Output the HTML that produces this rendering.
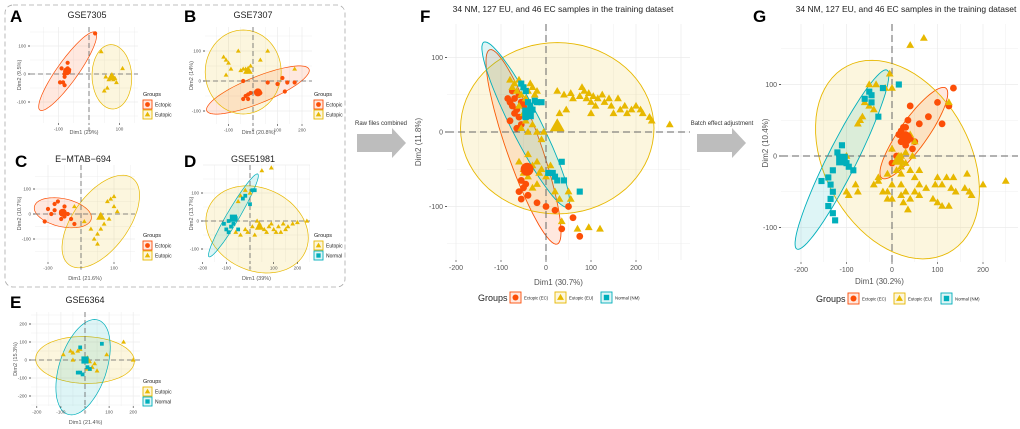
<!DOCTYPE html>
<html><head><meta charset="utf-8"><style>
body{margin:0;background:#fff;width:1020px;height:429px;overflow:hidden;font-family:"Liberation Sans",sans-serif}
svg{display:block}
</style></head><body>
<svg id="fig" width="1020" height="429" viewBox="0 0 1020 429" xmlns="http://www.w3.org/2000/svg" font-family="Liberation Sans, sans-serif">
<rect x="5" y="5" width="340" height="282" rx="8" fill="none" stroke="#aaa" stroke-dasharray="5,3" stroke-width="0.8"/>
<g>
<text x="381" y="125" font-size="6" text-anchor="middle" fill="#333">Raw files combined</text>
<polygon points="357,134 392,134 392,128 406,143 392,158 392,152 357,152" fill="#bdbdbd"/>
</g>
<g>
<text x="722" y="125" font-size="6" text-anchor="middle" fill="#333">Batch effect adjustment</text>
<polygon points="697,134 732,134 732,128 746,143 732,158 732,152 697,152" fill="#bdbdbd"/>
</g>
</svg>
<script>
// ---- Data (PCA coordinates, data units) ----
const aEctopic=[[-90,20],[-80,0],[-70,40],[-75,5],[-85,-30],[-80,-40],[-95,-30],[-70,20],[-65,15],[-80,-10],[20,145]];
const aEutopic=[[40,80],[70,-10],[80,-20],[60,-50],[50,-60],[110,20],[75,-5],[85,-15],[65,-20],[90,-30],[55,-10]];
const aCentroids=[[-72,10],[75,-10]];
const aEllipses=[[-70,10,166,35,57],[75,-10,115,65,92]];

const bEutopic=[[-120,80],[-110,70],[-100,60],[-60,100],[-30,40],[-20,30],[-40,40],[-10,50],[30,70],[60,100],[-90,40],[-30,30],[-20,35],[-110,20],[170,40],[-50,35]];
const bEctopic=[[-40,0],[-30,-50],[-20,-60],[-40,-60],[-10,-40],[60,-5],[100,-10],[120,10],[140,-5],[170,-5],[130,-35],[30,-40],[-20,-45]];
const bCentroids=[[20,-38],[-20,35]];
const bEllipses=[[20,-30,220,45,18],[-40,30,155,140,0]];

const cEctopic=[[-100,20],[-110,-30],[-90,0],[-80,40],[-70,50],[-60,10],[-50,30],[-40,0],[-30,-20],[-20,-40],[-60,-20],[-80,15],[-50,-10]];
const cEutopic=[[-20,30],[10,-30],[30,-60],[40,-100],[50,-80],[60,-60],[70,-40],[80,50],[90,60],[100,70],[100,30],[110,10],[50,-120],[85,-20]];
const cCentroids=[[-55,5],[60,-10]];
const cEllipses=[[-55,5,90,55,-20],[60,-30,200,90,65]];

const dEutopic=[[50,180],[90,190],[-20,110],[0,100],[-40,90],[-50,70],[30,0],[40,-10],[60,-30],[70,-40],[100,-30],[120,-20],[140,-10],[160,-20],[180,-10],[200,-5],[240,0],[-20,-30],[-40,-50],[-10,-40],[20,-50],[80,-20],[110,-40],[-60,-40],[90,-10],[130,-40],[150,-30],[10,-20]];
const dNormal=[[-90,0],[-80,-20],[-100,-30],[-90,-40],[-70,-10],[-60,10],[-110,-10],[-30,80],[-20,90],[10,110],[20,110],[0,60],[-50,-30]];
const dCentroids=[[40,-20],[-70,10]];
const dEllipses=[[30,-30,220,150,-15],[-70,20,180,25,55]];

const eEutopic=[[-90,30],[-60,50],[-50,40],[-30,50],[-20,60],[0,10],[20,-50],[30,-40],[40,-20],[50,-60],[90,30],[160,100],[200,0],[-50,0],[10,-50]];
const eNormal=[[-20,-70],[-30,-70],[-10,-80],[10,-40],[20,-50],[70,90],[-20,70]];
const eCentroids=[[10,0],[0,0]];
const eEllipses=[[0,0,205,130,-3],[-8,-40,270,100,78]];

const fEctopic=[[-80,40],[-75,35],[-70,45],[-65,30],[-60,50],[-55,40],[-70,25],[-60,20],[-75,55],[-85,45],[-50,35],[-65,5],[-55,10],[-80,15],[-55,-65],[-45,-70],[-60,-80],[-50,-75],[-55,-90],[-40,-85],[-20,-95],[0,-100],[20,-105],[50,-100],[35,-130],[60,-115],[75,-140]];
const fEutopic=[[-80,70],[-75,60],[-70,65],[-65,55],[-60,70],[-55,50],[-50,60],[-45,45],[-40,55],[-35,65],[-30,60],[-25,50],[-20,55],[-60,35],[-50,25],[-45,15],[-55,5],[-40,0],[-30,10],[-20,0],[-10,-10],[-5,0],[25,55],[40,50],[55,52],[60,45],[75,48],[80,60],[85,55],[90,45],[95,52],[100,40],[105,48],[110,35],[115,45],[125,50],[130,40],[140,45],[145,35],[150,25],[160,45],[165,30],[175,35],[180,25],[190,30],[200,35],[210,30],[215,25],[230,20],[235,15],[275,10],[45,30],[100,25],[30,25],[-60,-40],[-50,-50],[-40,-60],[-30,-45],[-20,-40],[-10,-50],[0,-60],[10,-45],[-20,-70],[-30,-75],[-50,-55],[20,-80],[30,-90],[50,-80],[55,-90],[-40,-30],[-15,-55],[35,-120],[70,-130],[95,-128],[120,-130]];
const fNormal=[[-55,65],[-50,60],[-45,55],[-40,40],[-35,35],[-30,30],[-25,42],[-20,40],[-10,40],[-45,20],[5,-55],[15,-55],[20,-60],[25,-65],[35,-40],[40,-65],[75,-80]];
const fCentroids=[[-42,-50],[25,8],[-40,25]];
const fEllipses=[[-50,-20,151,35,-59],[25,5,215,115,0],[-45,10,145,28,-49]];

const gEctopic=[[40,70],[60,45],[30,40],[20,35],[30,30],[40,25],[20,20],[30,15],[50,20],[45,10],[10,0],[0,-10],[25,40],[80,55],[100,75],[125,70],[110,45],[135,95],[35,50],[15,30]];
const gEutopic=[[-50,100],[-35,100],[-15,95],[-5,115],[0,95],[40,155],[70,165],[-60,75],[-50,70],[-40,65],[-70,50],[-75,45],[-65,55],[-100,0],[-80,-40],[-100,-50],[-75,-50],[-95,-55],[20,-15],[0,10],[10,-5],[20,0],[30,5],[10,-20],[20,-25],[30,-10],[40,-20],[50,-30],[60,-20],[60,-40],[-10,-50],[0,-40],[-30,-35],[-40,-40],[-20,-50],[30,-50],[40,-60],[20,-55],[50,-50],[0,-60],[25,-65],[35,-75],[60,-55],[-10,-60],[100,-30],[110,-40],[120,-30],[135,-30],[165,-25],[130,-45],[140,-50],[160,-45],[170,-50],[175,-55],[200,-40],[250,-35],[90,-60],[100,-65],[110,-70],[125,-70],[-10,-25],[-30,-30],[20,-40],[75,-45],[95,-40],[125,75],[40,30],[50,20],[45,0]];
const gNormal=[[-50,90],[-45,85],[-60,80],[-45,75],[-20,95],[15,100],[-30,55],[-110,15],[-120,5],[-100,-10],[-95,-15],[-85,-20],[-130,-20],[-140,-30],[-135,-40],[-130,-50],[-135,-60],[-140,-70],[-130,-80],[-125,-90],[-155,-35]];
const gCentroids=[[30,25],[15,-5],[-110,-5]];
const gEllipses=[[48,32,95,25,40],[12,-5,190,125,-25],[-110,-5,160,28,51]];

const COL={ec:"#FC4E07",eu:"#E7B800",nm:"#00AFBB"};
const NS="http://www.w3.org/2000/svg";
const svg=document.getElementById('fig');
function el(tag,attrs,parent){const e=document.createElementNS(NS,tag);for(const k in attrs)e.setAttribute(k,attrs[k]);(parent||svg).appendChild(e);return e;}

function marker(g,type,px,py,r){
  let m;
  if(type==='ec') m=el('circle',{cx:px,cy:py,r:r,fill:COL.ec},g);
  else if(type==='eu') m=el('polygon',{points:`${px},${py-r*1.2} ${px-r*1.15},${py+r*0.8} ${px+r*1.15},${py+r*0.8}`,fill:COL.eu},g);
  else m=el('rect',{x:px-r*0.9,y:py-r*0.9,width:r*1.8,height:r*1.8,fill:COL.nm},g);
  return m;
}

function panel(cfg){
  const g=el('g',{});
  
  
  const sx=v=>cfg.ox+v*cfg.kx, sy=v=>cfg.oy-v*cfg.ky;
  const [x0,y0,x1,y1]=cfg.area;
  const step=cfg.xstep, ystep=cfg.ystep;
  for(let v=-400;v<=400;v+=step/2){const p=sx(v);if(p>=x0&&p<=x1){const l=el('line',{x1:p,x2:p,y1:y0,y2:y1,stroke:"#ebebeb","stroke-width":v%step===0?0.7:0.4},g);}}
  for(let v=-400;v<=400;v+=ystep/2){const p=sy(v);if(p>=y0&&p<=y1){const l=el('line',{y1:p,y2:p,x1:x0,x2:x1,stroke:"#ebebeb","stroke-width":v%ystep===0?0.7:0.4},g);}}
  cfg.ellipses.forEach((e,i)=>{
    const [cx,cy,a,b,ang]=e;const t=ang*Math.PI/180;let d='';
    for(let k=0;k<=72;k++){const u=k/72*2*Math.PI;const x=cx+a*Math.cos(u)*Math.cos(t)-b*Math.sin(u)*Math.sin(t);const y=cy+a*Math.cos(u)*Math.sin(t)+b*Math.sin(u)*Math.cos(t);d+=(k?'L':'M')+sx(x).toFixed(1)+','+sy(y).toFixed(1);}
    const p=el('path',{d:d+'Z',fill:COL[cfg.groups[i]],"fill-opacity":0.13,stroke:COL[cfg.groups[i]],"stroke-width":cfg.big?0.9:0.7},g);
    
    
  });
  const zx=el('line',{x1:sx(0),x2:sx(0),y1:y0,y2:y1,stroke:"#666","stroke-width":cfg.big?1:0.8,"stroke-dasharray":cfg.big?"7,4":"5,3"},g);
  
  const zy=el('line',{y1:sy(0),y2:sy(0),x1:x0,x2:x1,stroke:"#666","stroke-width":cfg.big?1:0.8,"stroke-dasharray":cfg.big?"7,4":"5,3"},g);
  
  const r=cfg.big?3.4:2.1;
  cfg.series.forEach((s,i)=>{
    s.forEach(pt=>{const m=marker(g,cfg.groups[i],sx(pt[0]),sy(pt[1]),r);
      
      });
  });
  cfg.centroids.forEach((c,i)=>{const m=marker(g,cfg.groups[i],sx(c[0]),sy(c[1]),r*1.9);
    
    });
  const fs=cfg.big?7:4.6;
  cfg.xticks.forEach(v=>{const p=sx(v);const t=el('text',{x:p,y:y1+fs+3,"font-size":fs,"text-anchor":"middle",fill:"#555"},g);t.textContent=v;
    
    el('line',{x1:p,x2:p,y1:y1,y2:y1+2,stroke:"#333","stroke-width":0.6},g);});
  cfg.yticks.forEach(v=>{const p=sy(v);const t=el('text',{x:x0-4,y:p+fs*0.35,"font-size":fs,"text-anchor":"end",fill:"#555"},g);t.textContent=v;
    
    el('line',{x1:x0-2,x2:x0,y1:p,y2:p,stroke:"#333","stroke-width":0.8},g);});
  const afs=cfg.big?8:5.5;
  const xt=el('text',{x:(x0+x1)/2+(cfg.xlabdx||0),y:cfg.xlaby,"font-size":afs,"text-anchor":"middle",fill:"#555"},g);xt.textContent=cfg.xlab;
  
  const yt=el('text',{x:0,y:0,"font-size":afs,"text-anchor":"middle",fill:"#555",transform:`translate(${cfg.ylabx},${(y0+y1)/2}) rotate(-90)`},g);yt.textContent=cfg.ylab;
  
  const ti=el('text',{x:cfg.titlex,y:cfg.titley,"font-size":cfg.big?8.5:9,"text-anchor":"middle",fill:"#222"},g);ti.textContent=cfg.title;
  
  const lt=el('text',{x:cfg.letter[0],y:cfg.letter[1],"font-size":17,"font-weight":"bold",fill:"#000"},g);lt.textContent=cfg.letter[2];
  
  const names={ec:cfg.big?'Ectopic (EC)':'Ectopic',eu:cfg.big?'Eutopic (EU)':'Eutopic',nm:cfg.big?'Normal (NM)':'Normal'};
  const lg=el('g',{},g);
  if(!cfg.big){
    const [lx,ly]=cfg.legend;
    const gt=el('text',{x:lx,y:ly,"font-size":5.5,fill:"#222"},lg);gt.textContent='Groups';
    cfg.legendGroups.forEach((k,i)=>{const yy=ly+4+i*10;
      const e=el('g',{},lg);
      el('rect',{x:lx,y:yy,width:9,height:9,fill:COL[k],"fill-opacity":0.13,stroke:COL[k],"stroke-width":0.9},e);
      marker(e,k,lx+4.5,yy+4.5,2.4);
      const t=el('text',{x:lx+12,y:yy+6.5,"font-size":5,fill:"#222"},e);t.textContent=names[k];});
  } else {
    const [lx,ly,offs]=cfg.legend;
    const gt=el('text',{x:lx,y:ly+3,"font-size":9,fill:"#222"},lg);gt.textContent='Groups';
    cfg.legendGroups.forEach((k,i)=>{const xx=offs[i];
      const e=el('g',{},lg);
      el('rect',{x:xx,y:ly-6,width:11,height:11,fill:COL[k],"fill-opacity":0.13,stroke:COL[k],"stroke-width":0.9},e);
      marker(e,k,xx+5.5,ly-0.5,3);
      const t=el('text',{x:xx+14,y:ly+1.5,"font-size":4.3,fill:"#222"},e);t.textContent=names[k];});
  }
}

panel({name:'panel-a-gse7305',ox:89,kx:0.305,oy:74,ky:0.28,area:[30,27,138,123],xstep:100,ystep:100,xticks:[-100,0,100],yticks:[100,0,-100],
  ellipses:aEllipses,groups:['ec','eu'],series:[aEctopic,aEutopic],centroids:aCentroids,xlab:'Dim1 (29%)',xlaby:134,ylab:'Dim2 (9.5%)',ylabx:21,
  title:'GSE7305',titlex:87,titley:18,letter:[10,22,'A'],legend:[143,96],legendGroups:['ec','eu']});
panel({name:'panel-b-gse7307',ox:253,kx:0.245,oy:81,ky:0.3,area:[205,27,312,124],xstep:100,ystep:100,xticks:[-100,0,100,200],yticks:[100,0,-100],
  ellipses:bEllipses,groups:['ec','eu'],series:[bEctopic,bEutopic],centroids:bCentroids,xlab:'Dim1 (20.8%)',xlaby:134,ylab:'Dim2 (14%)',ylabx:193,
  title:'GSE7307',titlex:253,titley:18,letter:[184,22,'B'],legend:[314,96],legendGroups:['ec','eu']});
panel({name:'panel-c-emtab694',ox:81,kx:0.33,oy:214,ky:0.25,area:[35,165,135,262],xstep:100,ystep:100,xticks:[-100,0,100],yticks:[100,0,-100],
  ellipses:cEllipses,groups:['ec','eu'],series:[cEctopic,cEutopic],centroids:cCentroids,xlab:'Dim1 (21.6%)',xlaby:280,ylab:'Dim2 (10.7%)',ylabx:21,
  title:'E−MTAB−694',titlex:83,titley:162,letter:[15,167,'C'],legend:[143,237],legendGroups:['ec','eu']});
panel({name:'panel-d-gse51981',ox:250,kx:0.237,oy:221,ky:0.28,area:[203,165,310,262],xstep:100,ystep:100,xticks:[-200,-100,0,100,200],yticks:[100,0,-100],
  ellipses:dEllipses,groups:['eu','nm'],series:[dEutopic,dNormal],centroids:dCentroids,xlab:'Dim1 (39%)',xlaby:280,ylab:'Dim2 (13.7%)',ylabx:193,
  title:'GSE51981',titlex:253,titley:162,letter:[184,167,'D'],legend:[314,237],legendGroups:['eu','nm']});
panel({name:'panel-e-gse6364',ox:85,kx:0.241,oy:360,ky:0.18,area:[31,312,140,406],xstep:100,ystep:100,xticks:[-200,-100,0,100,200],yticks:[200,100,0,-100,-200],
  ellipses:eEllipses,groups:['eu','nm'],series:[eEutopic,eNormal],centroids:eCentroids,xlab:'Dim1 (21.4%)',xlaby:424,ylab:'Dim2 (15.3%)',ylabx:17,
  title:'GSE6364',titlex:85,titley:303,letter:[10,308,'E'],legend:[143,383],legendGroups:['eu','nm']});
panel({name:'panel-f-raw-combined',big:true,ox:546,kx:0.45,oy:132,ky:0.745,area:[447,24,690,260],xstep:100,ystep:100,xticks:[-200,-100,0,100,200],yticks:[100,0,-100],
  ellipses:fEllipses,groups:['ec','eu','nm'],series:[fEctopic,fEutopic,fNormal],centroids:fCentroids,xlab:'Dim1 (30.7%)',xlaby:285,xlabdx:-10,ylab:'Dim2 (11.8%)',ylabx:421,
  title:'34 NM, 127 EU, and 46 EC samples in the training dataset',titlex:563,titley:12,letter:[420,22,'F'],legend:[478,298,[510,555,601]],legendGroups:['ec','eu','nm']});
panel({name:'panel-g-batch-adjusted',big:true,ox:892,kx:0.455,oy:156,ky:0.715,area:[781,24,1018,262],xstep:100,ystep:100,xticks:[-200,-100,0,100,200],yticks:[100,0,-100],
  ellipses:gEllipses,groups:['ec','eu','nm'],series:[gEctopic,gEutopic,gNormal],centroids:gCentroids,xlab:'Dim1 (30.2%)',xlaby:284,xlabdx:-20,ylab:'Dim2 (10.4%)',ylabx:768,
  title:'34 NM, 127 EU, and 46 EC samples in the training dataset',titlex:906,titley:12,letter:[753,22,'G'],legend:[816,299,[848,894,941]],legendGroups:['ec','eu','nm']});
</script>
</body></html>
